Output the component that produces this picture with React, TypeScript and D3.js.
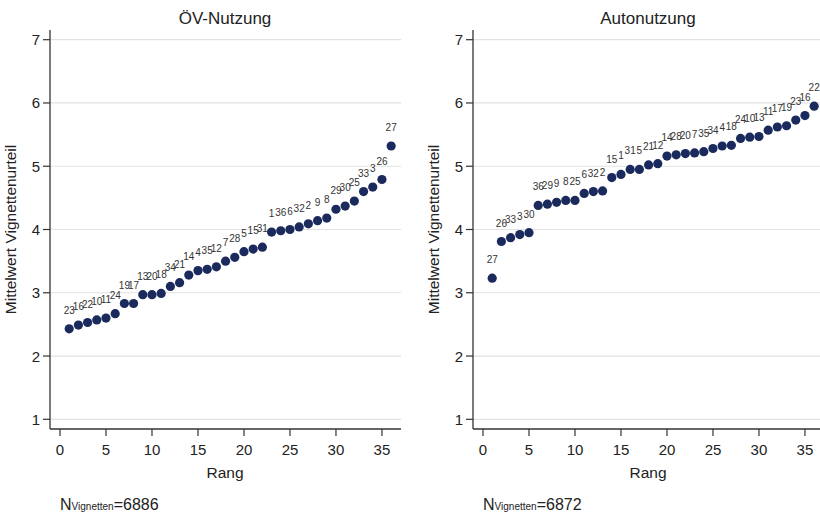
import React from "react";
import * as d3 from "d3";

// Ranked mean vignette ratings, public transport use (ÖV-Nutzung)
const oevValues = [
  2.43, 2.49, 2.53, 2.57, 2.6, 2.67, 2.83, 2.83, 2.97, 2.97, 2.99, 3.1,
  3.16, 3.28, 3.35, 3.37, 3.41, 3.5, 3.56, 3.65, 3.69, 3.72, 3.96, 3.98,
  4.0, 4.04, 4.09, 4.14, 4.18, 4.32, 4.37, 4.45, 4.6, 4.67, 4.79, 5.32,
];
const oevLabels = [
  "23", "16", "22", "10", "11", "24", "19", "17", "13", "20", "18", "34",
  "21", "14", "4", "35", "12", "7", "28", "5", "15", "31", "1", "36",
  "6", "32", "2", "9", "8", "29", "30", "25", "33", "3", "26", "27",
];

// Ranked mean vignette ratings, car use (Autonutzung)
const autoValues = [
  3.23, 3.81, 3.87, 3.92, 3.95, 4.38, 4.4, 4.43, 4.46, 4.46, 4.57, 4.6,
  4.61, 4.82, 4.87, 4.95, 4.95, 5.02, 5.04, 5.16, 5.18, 5.2, 5.21, 5.23,
  5.28, 5.32, 5.33, 5.44, 5.46, 5.47, 5.57, 5.62, 5.64, 5.73, 5.8, 5.95,
];
const autoLabels = [
  "27", "26", "33", "3", "30", "36", "29", "9", "8", "25", "6", "32",
  "2", "15", "1", "31", "5", "21", "12", "14", "28", "20", "7", "35",
  "34", "4", "18", "24", "10", "13", "11", "17", "19", "23", "16", "22",
];

const yTicks = [1, 2, 3, 4, 5, 6, 7];
const xTicks = [0, 5, 10, 15, 20, 25, 30, 35];

const W = 820;
const H = 519;
const FONT = "Arial, 'Liberation Sans', sans-serif";
const DOT = "#1b2a5c";

type PanelProps = {
  title: string;
  values: number[];
  labels: string[];
  left: number;
  nText: string;
};

function Panel({ title, values, labels, left, nText }: PanelProps) {
  const plotW = 351;
  const x = d3.scaleLinear().domain([-1.087, 37.07]).range([left, left + plotW]);
  const y = d3.scaleLinear().domain([1, 7]).range([419.3, 39.7]);
  const axisY = 429;
  return (
    <g fontFamily={FONT}>
      <text x={left + 175} y={24} fontSize={17} textAnchor="middle" fill="#222">
        {title}
      </text>
      {yTicks.map((t) => (
        <g key={t}>
          <line x1={left} x2={left + plotW} y1={y(t)} y2={y(t)} stroke="#e2e2e2" strokeWidth={1.2} />
          <line x1={left - 7} x2={left} y1={y(t)} y2={y(t)} stroke="#333" strokeWidth={1.2} />
          <text x={left - 10} y={y(t) + 5.5} fontSize={15} textAnchor="end" fill="#222">
            {t}
          </text>
        </g>
      ))}
      <line x1={left} x2={left} y1={30} y2={axisY} stroke="#333" strokeWidth={1.3} />
      <line x1={left} x2={left + plotW} y1={axisY} y2={axisY} stroke="#333" strokeWidth={1.3} />
      {xTicks.map((t) => (
        <g key={t}>
          <line x1={x(t)} x2={x(t)} y1={axisY} y2={axisY + 7} stroke="#333" strokeWidth={1.2} />
          <text x={x(t)} y={axisY + 26} fontSize={15} textAnchor="middle" fill="#222">
            {t}
          </text>
        </g>
      ))}
      <text x={left + 175} y={478} fontSize={15.5} textAnchor="middle" fill="#222">
        Rang
      </text>
      <text
        transform={`translate(${left - 34},${y(4)}) rotate(-90)`}
        fontSize={15.5}
        textAnchor="middle"
        fill="#222"
      >
        Mittelwert Vignettenurteil
      </text>
      {values.map((v, i) => (
        <g key={i}>
          <circle cx={x(i + 1)} cy={y(v)} r={4.6} fill={DOT} />
          <text x={x(i + 1)} y={y(v) - 15} fontSize={10} textAnchor="middle" fill="#333">
            {labels[i]}
          </text>
        </g>
      ))}
      <text x={left + 10} y={510} fontSize={16} fill="#222">
        N<tspan fontSize={10}>Vignetten</tspan>
        <tspan>={nText}</tspan>
      </text>
    </g>
  );
}

export default function App() {
  return (
    <svg
      width={W}
      height={H}
      style={{ position: "absolute", left: 0, top: 0, background: "#fff" }}
    >
      <rect width={W} height={H} fill="#fff" />
      <Panel title="ÖV-Nutzung" values={oevValues} labels={oevLabels} left={50} nText="6886" />
      <Panel title="Autonutzung" values={autoValues} labels={autoLabels} left={473} nText="6872" />
    </svg>
  );
}
